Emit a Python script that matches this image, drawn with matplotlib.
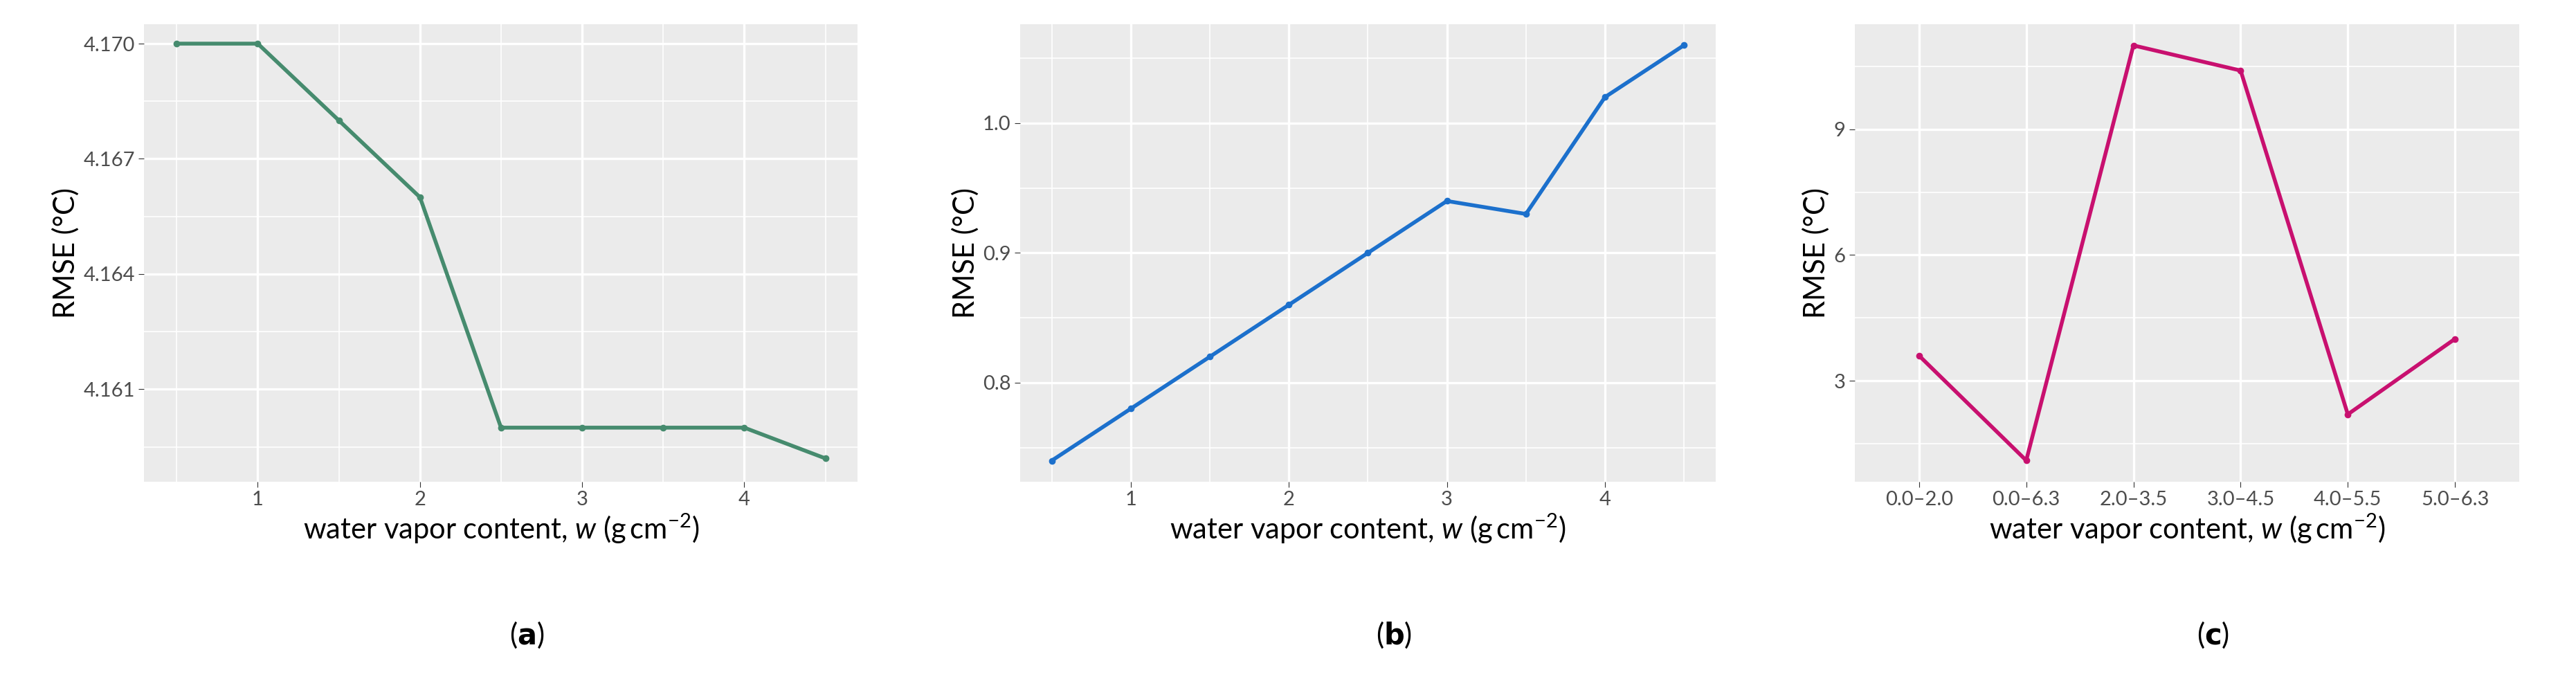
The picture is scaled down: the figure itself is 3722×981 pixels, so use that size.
import matplotlib
matplotlib.use("Agg")
import matplotlib.pyplot as plt
from matplotlib.ticker import MultipleLocator, AutoMinorLocator

plt.rcParams['font.family'] = ['Lato', 'DejaVu Sans']
plt.rcParams['mathtext.fontset'] = 'custom'
plt.rcParams['mathtext.it'] = 'Lato:italic'
plt.rcParams['mathtext.rm'] = 'Lato'

w = [0.5, 1, 1.5, 2, 2.5, 3, 3.5, 4, 4.5]
rmse_a = [4.170, 4.170, 4.168, 4.166, 4.160, 4.160, 4.160, 4.160, 4.1592]
rmse_b = [0.74, 0.78, 0.82, 0.86, 0.90, 0.94, 0.93, 1.02, 1.06]
ranges_c = ["0.0\u20132.0", "0.0\u20136.3", "2.0\u20133.5", "3.0\u20134.5", "4.0\u20135.5", "5.0\u20136.3"]
rmse_c = [3.6, 1.1, 11.0, 10.4, 2.2, 4.0]

xlab = r"water vapor content, $w$ (g$\,$cm$^{-2}$)"
ylab = "RMSE (\u00b0C)"

fig = plt.figure(figsize=(37.22, 9.81), dpi=100)
boxes = [(0.056, 0.333), (0.396, 0.666), (0.720, 0.978)]
axes = [fig.add_axes([l, 0.291, r - l, 0.673]) for l, r in boxes]

def style(ax):
  ax.set_facecolor("#EBEBEB")
  for s in ax.spines.values():
    s.set_visible(False)
  ax.grid(True, which="major", color="white", linewidth=2.4)
  ax.grid(True, which="minor", color="white", linewidth=1.2)
  ax.set_axisbelow(True)
  ax.tick_params(which="major", labelsize=21, length=6, color="#333333", labelcolor="#4D4D4D")
  ax.tick_params(which="minor", length=0)
  ax.set_xlabel(xlab, fontsize=30)
  ax.set_ylabel(ylab, fontsize=30)

ax = axes[0]
ax.plot(w, rmse_a, color="#468B6E", linewidth=4, marker="o", markersize=6)
ax.set_yticks([4.161, 4.164, 4.167, 4.170])
ax.yaxis.set_minor_locator(AutoMinorLocator(2))
ax.xaxis.set_major_locator(MultipleLocator(1))
ax.xaxis.set_minor_locator(AutoMinorLocator(2))
ax.set_xlim(0.3, 4.7)
ax.set_ylim(4.1586, 4.1705)
style(ax)

ax = axes[1]
ax.plot(w, rmse_b, color="#1C70CC", linewidth=4, marker="o", markersize=6)
ax.set_yticks([0.8, 0.9, 1.0])
ax.yaxis.set_minor_locator(AutoMinorLocator(2))
ax.xaxis.set_major_locator(MultipleLocator(1))
ax.xaxis.set_minor_locator(AutoMinorLocator(2))
ax.set_xlim(0.3, 4.7)
ax.set_ylim(0.724, 1.076)
style(ax)

ax = axes[2]
xc = list(range(len(ranges_c)))
ax.plot(xc, rmse_c, color="#C8106F", linewidth=4, marker="o", markersize=6)
ax.set_xticks(xc)
ax.set_xticklabels(ranges_c)
ax.set_yticks([3, 6, 9])
ax.yaxis.set_minor_locator(AutoMinorLocator(2))
ax.set_xlim(-0.6, 5.6)
ax.set_ylim(0.6, 11.5)
style(ax)

for (l, r), lab in zip(boxes, ["a", "b", "c"]):
  fig.text((l + r) / 2 + 0.01, 0.065, "(" + lab + ")", ha="center", va="center",
           fontsize=30)
  fig.texts[-1].set_text(r"($\mathbf{" + lab + "}$)")

fig.savefig("out.png", dpi=100)
